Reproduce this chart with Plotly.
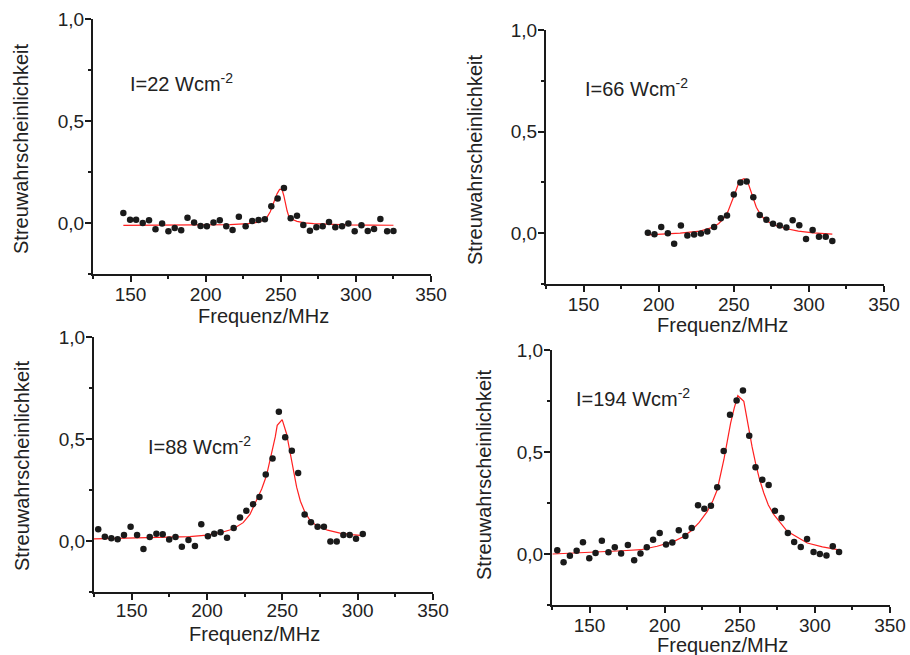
import plotly.graph_objects as go

# ---------------- data ----------------
# Panel 1: I=22 W/cm^2
f1 = [145.2, 149.7, 153.7, 158.1, 162.3, 166.6, 171.0, 175.2, 179.4, 183.7, 187.9, 192.3, 196.6,
      200.8, 205.2, 209.4, 213.7, 217.9, 222.1, 226.6, 231.0, 235.2, 239.4, 243.7, 247.9, 252.1,
      256.6, 260.8, 265.0, 269.4, 273.7, 277.9, 282.1, 286.3, 290.8, 295.0, 299.2, 303.7, 307.9,
      312.1, 316.3, 320.8, 325.0]
p1 = [0.049, 0.016, 0.016, 0.000, 0.013, -0.031, -0.002, -0.041, -0.025, -0.036, 0.026, 0.003, -0.015,
      -0.016, 0.003, 0.013, -0.016, -0.034, 0.031, -0.016, 0.010, 0.015, 0.018, 0.082, 0.120, 0.172,
      0.023, 0.036, -0.010, -0.038, -0.021, -0.016, 0.005, -0.021, -0.016, -0.003, -0.041, -0.011, -0.039,
      -0.030, 0.020, -0.041, -0.039]
fit1_f = [145.2, 170, 195, 216.3, 228, 234.1, 238, 240.8, 243, 244.8, 246.3, 247.5, 249.2, 250.8, 252,
          253, 254.2, 255.2, 257.5, 260.8, 266, 271.9, 285, 294.1, 310, 325]
fit1_p = [-0.012, -0.011, -0.010, -0.008, -0.003, 0.003, 0.012, 0.028, 0.055, 0.093, 0.120, 0.143, 0.165,
          0.165, 0.135, 0.093, 0.060, 0.036, 0.018, 0.008, 0.001, -0.003, -0.007, -0.009, -0.010, -0.011]

# Panel 2: I=66 W/cm^2
f2 = [192.8, 197.2, 201.7, 206.1, 210.3, 214.8, 219.1, 223.6, 228.1, 232.4, 236.9, 241.4, 245.5, 250.0,
      254.4, 258.6, 263.0, 267.3, 271.7, 276.1, 280.6, 285.0, 289.2, 293.6, 298.1, 302.5, 306.7, 311.2, 315.6]
p2 = [0.002, -0.005, 0.031, 0.000, -0.052, 0.038, -0.011, -0.007, -0.002, 0.008, 0.030, 0.074, 0.087, 0.190,
      0.249, 0.254, 0.177, 0.089, 0.066, 0.046, 0.038, 0.028, 0.064, 0.039, -0.028, 0.016, -0.018, -0.018, -0.038]
fit2_f = [192.8, 205, 214.3, 227.6, 236.4, 240, 243.1, 246, 248.7, 251, 253.1, 255, 256.8, 258.3, 259.7,
          261.3, 263.0, 265, 267.5, 270.5, 274.1, 279, 285.2, 293, 302.9, 315.6]
fit2_p = [-0.008, -0.004, 0.000, 0.010, 0.030, 0.048, 0.071, 0.105, 0.152, 0.200, 0.243, 0.262, 0.268, 0.262,
          0.243, 0.210, 0.169, 0.128, 0.095, 0.068, 0.051, 0.035, 0.022, 0.010, 0.002, -0.005]

# Panel 3: I=88 W/cm^2
f3 = [123.6, 127.8, 132.2, 136.5, 140.7, 144.9, 149.3, 153.6, 157.8, 162.0, 166.4, 170.6, 174.9, 179.1,
      183.3, 187.7, 192.0, 196.2, 200.6, 204.8, 209.0, 213.3, 217.7, 221.9, 226.1, 230.6, 234.8, 239.0,
      243.5, 247.7, 251.9, 256.3, 260.5, 264.8, 269.0, 273.4, 277.6, 281.9, 286.1, 290.5, 294.7, 298.9, 303.4]
p3 = [0.023, 0.057, 0.021, 0.013, 0.008, 0.030, 0.070, 0.030, -0.039, 0.020, 0.036, 0.033, 0.007, 0.020,
      -0.028, 0.005, -0.025, 0.082, 0.023, 0.036, 0.043, 0.016, 0.064, 0.115, 0.148, 0.180, 0.216, 0.326,
      0.405, 0.634, 0.508, 0.443, 0.333, 0.130, 0.092, 0.070, 0.070, -0.003, -0.003, 0.030, 0.030, 0.011, 0.034]
fit3_f = [124.7, 150, 175, 188.4, 200, 210, 217.3, 224, 228.5, 232.8, 236.3, 239.5, 241.8, 243.9, 245.3,
          246.6, 249.9, 252.8, 254.5, 256.1, 257.8, 259.5, 262, 265, 268.5, 272.8, 280, 288.3, 296, 303.8]
fit3_p = [0.010, 0.013, 0.017, 0.021, 0.029, 0.043, 0.059, 0.090, 0.130, 0.198, 0.255, 0.321, 0.390, 0.460,
          0.510, 0.567, 0.595, 0.526, 0.460, 0.395, 0.330, 0.264, 0.195, 0.141, 0.100, 0.075, 0.053, 0.039,
          0.031, 0.026]

# Panel 4: I=194 W/cm^2
f4 = [124.3, 128.5, 132.7, 136.9, 141.4, 145.6, 149.8, 154.0, 158.2, 162.6, 166.8, 171.0, 175.5, 179.7,
      183.9, 188.1, 192.3, 196.7, 200.9, 205.1, 209.4, 213.8, 218.0, 222.2, 226.4, 230.8, 235.0, 239.3,
      243.5, 247.9, 252.1, 256.3, 260.5, 265.0, 269.2, 273.4, 277.8, 282.0, 286.2, 290.6, 294.8, 299.1,
      303.3, 307.7, 311.9, 316.1]
p4 = [-0.011, 0.018, -0.041, -0.008, 0.016, 0.057, -0.021, 0.005, 0.065, 0.008, 0.033, 0.002, 0.044, -0.031,
      0.003, 0.033, 0.070, 0.103, 0.046, 0.056, 0.116, 0.088, 0.127, 0.239, 0.222, 0.237, 0.327, 0.505,
      0.683, 0.752, 0.801, 0.580, 0.425, 0.364, 0.338, 0.212, 0.176, 0.103, 0.059, 0.034, 0.074, 0.010,
      0.000, -0.007, 0.038, 0.010]
fit4_f = [125.4, 150, 171.9, 184.1, 195, 206.2, 212, 217.3, 223, 228.4, 232, 235.0, 237.3, 239.4, 241.6,
          243.9, 246.3, 248.7, 252.7, 256.0, 258.2, 260.5, 263, 266.0, 269, 272.7, 281.6, 294.9, 305, 316.1]
fit4_p = [0.000, 0.007, 0.016, 0.021, 0.038, 0.062, 0.083, 0.111, 0.155, 0.209, 0.260, 0.315, 0.385, 0.462,
          0.550, 0.642, 0.715, 0.776, 0.748, 0.609, 0.525, 0.446, 0.370, 0.299, 0.240, 0.193, 0.111, 0.054,
          0.035, 0.020]

labels = ["I=22 Wcm", "I=66 Wcm", "I=88 Wcm", "I=194 Wcm"]
x_title = "Frequenz/MHz"
y_title = "Streuwahrscheinlichkeit"
x_range = [125, 350]
y_range = [-0.25, 1.0]

# ---------------- layout geometry (pixels) ----------------
W, H = 910, 655
# plot boxes: (left, right, top, bottom) in px
boxes = [(93, 431, 19, 274), (546, 884, 30, 284), (94, 433, 337, 592), (552, 890, 350, 605)]
label_pos = [(128, 82), (583, 88), (146, 445), (574, 397)]
xtitle_pos = [(263, 316), (722, 325), (254, 634), (722, 645)]
ytitle_pos = [(21, 149), (475, 160), (22, 466), (484, 475)]
x_standoff = [-4, -4, -6, -4]

FONT = "Arial, Liberation Sans, Helvetica, sans-serif"
AX = "#1a1a1a"

series = [(f1, p1, fit1_f, fit1_p), (f2, p2, fit2_f, fit2_p), (f3, p3, fit3_f, fit3_p), (f4, p4, fit4_f, fit4_p)]

fig = go.Figure()
annotations = []
layout_axes = {}
for i, (fx, py, ff, fp) in enumerate(series):
    n = "" if i == 0 else str(i + 1)
    xa, ya = "x" + n, "y" + n
    fig.add_trace(go.Scatter(x=ff, y=fp, mode="lines", line=dict(color="#ff2020", width=1.2),
                             xaxis=xa, yaxis=ya, showlegend=False, hoverinfo="skip"))
    fig.add_trace(go.Scatter(x=fx, y=py, mode="markers", marker=dict(color="#1a1a1a", size=6.5),
                             xaxis=xa, yaxis=ya, showlegend=False, cliponaxis=False))
    l, r, t, b = boxes[i]
    common = dict(showline=True, linewidth=2, linecolor=AX, ticks="outside", ticklen=6, tickwidth=1.5,
                  tickcolor=AX, showgrid=False, zeroline=False, automargin=False,
                  tickfont=dict(size=19, family=FONT, color="#222"))
    layout_axes["xaxis" + n] = dict(domain=[l / W, r / W], anchor=ya, range=x_range, tickmode="linear",
                                    tick0=150, dtick=50, ticklabelstandoff=x_standoff[i],
                                    minor=dict(tick0=125, dtick=25, ticks="outside", ticklen=3, tickwidth=1.5,
                                               tickcolor=AX),
                                    **common)
    layout_axes["yaxis" + n] = dict(domain=[1 - b / H, 1 - t / H], anchor=xa, range=y_range, tickmode="linear",
                                    tick0=0, dtick=0.5, tickformat=".1f", ticklabelstandoff=-3,
                                    minor=dict(tick0=0, dtick=0.25, ticks="outside", ticklen=3, tickwidth=1.5,
                                               tickcolor=AX),
                                    **common)
    lx, ly = label_pos[i]
    annotations.append(dict(text=labels[i] + "<sup>-2</sup>", x=lx / W, y=1 - ly / H, xref="paper", yref="paper",
                            xanchor="left", yanchor="middle", showarrow=False,
                            font=dict(size=20, family=FONT, color="#222")))
    tx, ty = xtitle_pos[i]
    annotations.append(dict(text=x_title, x=tx / W, y=1 - ty / H, xref="paper", yref="paper",
                            xanchor="center", yanchor="middle", showarrow=False,
                            font=dict(size=20, family=FONT, color="#222")))
    yx, yy = ytitle_pos[i]
    annotations.append(dict(text=y_title, x=yx / W, y=1 - yy / H, xref="paper", yref="paper",
                            xanchor="center", yanchor="middle", showarrow=False, textangle=-90,
                            font=dict(size=20, family=FONT, color="#222")))

fig.update_layout(width=W, height=H, margin=dict(l=0, r=0, t=0, b=0, pad=0, autoexpand=False),
                  paper_bgcolor="white", plot_bgcolor="white", separators=", ",
                  annotations=annotations, **layout_axes)

fig.write_html("out.html")
